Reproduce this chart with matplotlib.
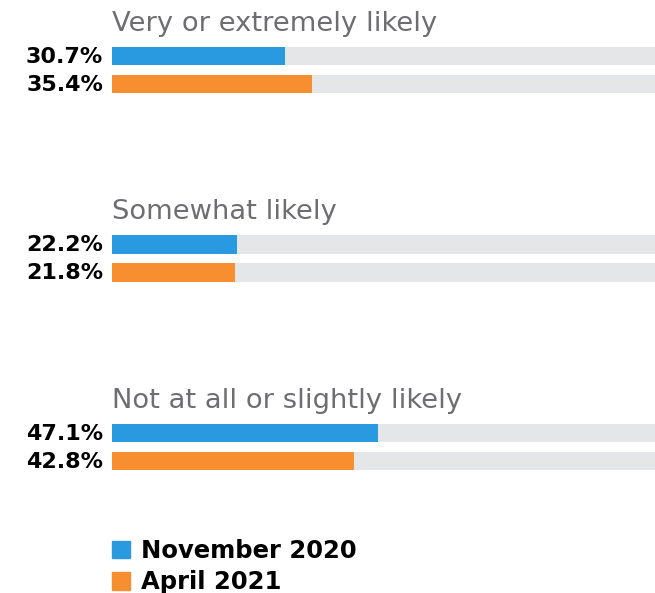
import matplotlib.pyplot as plt
from matplotlib.patches import Patch
import numpy as np

categories = ['Very or extremely likely', 'Somewhat likely', 'Not at all or slightly likely']
series = ['November 2020', 'April 2021']
nov_2020 = [30.7, 22.2, 47.1]
apr_2021 = [35.4, 21.8, 42.8]

BLUE = '#299ADF'
ORANGE = '#F78E30'
TRACK = '#E5E6E8'
GREY_TXT = '#6E6E72'

fig = plt.figure(figsize=(6.55, 5.93), dpi=100)
ax = fig.add_axes([112 / 655, 0, 1 - 112 / 655, 1])

offset = 0.1485   # second bar offset, in group units
bar_h = 0.096
groups = np.arange(len(categories))

for vals, col, off in [(nov_2020, BLUE, 0.0), (apr_2021, ORANGE, offset)]:
    y = groups + off
    ax.barh(y, [100] * len(vals), height=bar_h, color=TRACK, zorder=1)
    ax.barh(y, vals, height=bar_h, color=col, zorder=2)
    for yy, v in zip(y, vals):
        ax.text(-1.6, yy + 0.004, f'{v}%', ha='right', va='center', fontsize=16,
                fontweight='bold', family='DejaVu Sans', color='black', clip_on=False)

for g, cat in zip(groups, categories):
    ax.text(0, g - 0.172, cat, ha='left', va='center', fontsize=19.7,
            family='DejaVu Sans', color=GREY_TXT)

ax.set_xlim(0, 96.1)
ax.set_ylim(2.849, -0.297)
ax.axis('off')

handles = [Patch(color=BLUE, label=series[0]), Patch(color=ORANGE, label=series[1])]
leg = fig.legend(handles=handles, loc='upper left', bbox_to_anchor=(112 / 655, 1 - 539 / 593),
                 frameon=False, borderpad=0, borderaxespad=0,
                 handlelength=0.75, handleheight=0.75, handletextpad=0.45,
                 labelspacing=0.3, prop={'family': 'DejaVu Sans', 'weight': 'bold', 'size': 17.5})

fig.savefig('out.png', dpi=100)
